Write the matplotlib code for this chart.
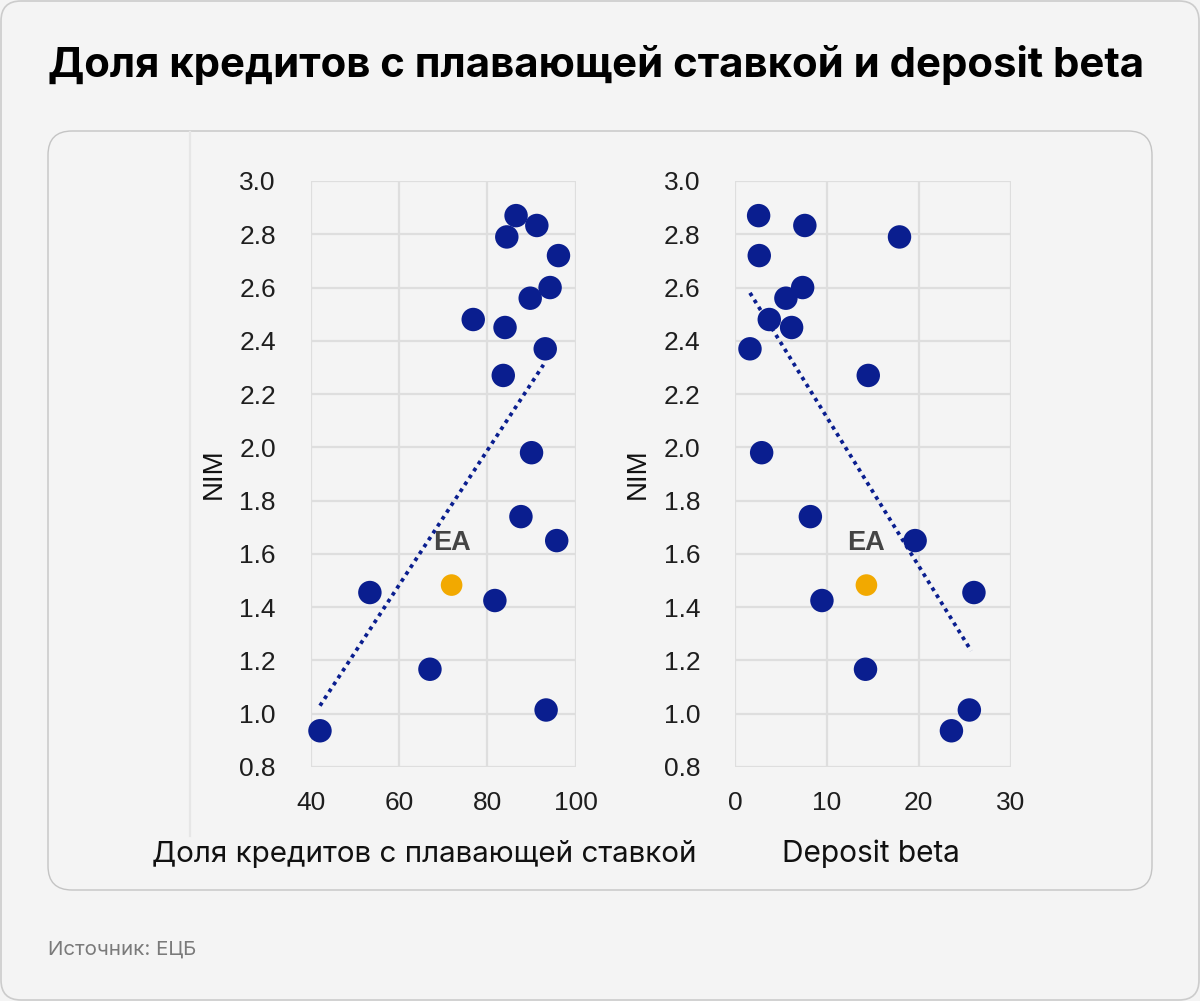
import matplotlib
matplotlib.use("Agg")
import matplotlib.pyplot as plt
from matplotlib.patches import FancyBboxPatch
from matplotlib.lines import Line2D

# ---------------- data ----------------
nim = [2.87, 2.833, 2.79, 2.72, 2.60, 2.56, 2.48, 2.45, 2.37, 2.27,
       1.98, 1.74, 1.65, 1.455, 1.425, 1.167, 1.014, 0.936]
float_share = [86.5, 91.2, 84.4, 96.1, 94.2, 89.7, 76.8, 84.0, 93.1, 83.6,
               90.0, 87.6, 95.7, 53.4, 81.7, 67.0, 93.3, 42.1]
deposit_beta = [2.57, 7.6, 17.9, 2.64, 7.36, 5.54, 3.73, 6.16, 1.63, 14.5,
                2.9, 8.2, 19.6, 26.0, 9.46, 14.2, 25.5, 23.55]

ea_label = "EA"
ea_nim = 1.483
ea_float = 71.9
ea_beta = 14.3

trend_float_x = [42.1, 92.7]
trend_float_y = [1.03, 2.31]
trend_beta_x = [1.63, 25.7]
trend_beta_y = [2.58, 1.236]

yticks = [0.8, 1.0, 1.2, 1.4, 1.6, 1.8, 2.0, 2.2, 2.4, 2.6, 2.8, 3.0]
xticks_float = [40, 60, 80, 100]
xticks_beta = [0, 10, 20, 30]

title = "Доля кредитов с плавающей ставкой и deposit beta"
xlabel_float = "Доля кредитов с плавающей ставкой"
xlabel_beta = "Deposit beta"
ylabel = "NIM"
source = "Источник: ЕЦБ"

# ---------------- style ----------------
W, H = 1200, 1001
BG = "#f4f4f4"
BLUE = "#0a1e8f"
ORANGE = "#f2a900"
GRID = "#dedede"
TICK_FONT = ["Liberation Sans", "DejaVu Sans"]
TEXT_FONT = ["Inter", "Roboto", "DejaVu Sans"]

fig = plt.figure(figsize=(W / 100, H / 100), dpi=100)
fig.patch.set_facecolor(BG)

# pixel-coordinate background axes for frames
bg = fig.add_axes([0, 0, 1, 1], zorder=-5)
bg.set_xlim(0, W)
bg.set_ylim(H, 0)
bg.axis("off")
bg.add_patch(FancyBboxPatch((1, 1), W - 2, H - 2,
                            boxstyle="round,pad=0,rounding_size=20",
                            fc=BG, ec="#cccccc", lw=1.2))
bg.add_patch(FancyBboxPatch((48, 131), 1104, 759,
                            boxstyle="round,pad=0,rounding_size=24",
                            fc=BG, ec="#c4c4c4", lw=1.0))
bg.add_line(Line2D([190, 190], [132, 836], color="#e6e6e6", lw=1.6))


def px_to_fig(x0, y_top, x1, y_bot):
    return [x0 / W, 1 - y_bot / H, (x1 - x0) / W, (y_bot - y_top) / H]


def style_axes(ax, xlim, xticks):
    ax.set_facecolor("none")
    ax.set_xlim(*xlim)
    ax.set_ylim(0.8, 3.0)
    ax.set_xticks(xticks)
    ax.set_yticks(yticks)
    ax.set_yticklabels([f"{v:.1f}" for v in yticks])
    ax.set_xticklabels([str(v) for v in xticks])
    ax.grid(True, color=GRID, lw=1.6, zorder=0)
    ax.set_axisbelow(True)
    for s in ax.spines.values():
        s.set_visible(False)
    ax.tick_params(length=0, labelsize=19, labelcolor="#1e1e1e")
    ax.tick_params(axis="y", pad=25)
    ax.tick_params(axis="x", pad=17)
    for lab in ax.get_xticklabels() + ax.get_yticklabels():
        lab.set_fontfamily(TICK_FONT)
    ax.set_ylabel(ylabel, fontsize=20, family=TICK_FONT, color="#111111", labelpad=9)


ax1 = fig.add_axes(px_to_fig(310.7, 181, 575.7, 767))
ax2 = fig.add_axes(px_to_fig(735, 181, 1010.7, 767))

style_axes(ax1, (40, 100), xticks_float)
style_axes(ax2, (0, 30), xticks_beta)

MS = 285
for ax, xs, ex, tx, ty in [
    (ax1, float_share, ea_float, trend_float_x, trend_float_y),
    (ax2, deposit_beta, ea_beta, trend_beta_x, trend_beta_y),
]:
    ax.plot(tx, ty, color=BLUE, lw=2.7, linestyle=(0, (1, 1.2)), zorder=2)
    ax.scatter(xs, nim, s=MS, color=BLUE, edgecolors="none", zorder=3, clip_on=False)
    ax.scatter([ex], [ea_nim], s=MS * 0.85, color=ORANGE, edgecolors="none", zorder=3, clip_on=False)
    ax.annotate(ea_label, (ex, ea_nim), xytext=(0, 30), textcoords="offset points",
                ha="center", va="center", fontsize=19.5, fontweight="bold",
                family=TICK_FONT, color="#444444")

# texts
fig.text(48 / W, 1 - 77 / H, title, fontsize=30.2, fontweight="bold",
         family=TEXT_FONT, color="#000000", ha="left", va="baseline")
fig.text(424 / W, 1 - 862 / H, xlabel_float, fontsize=21.3, family=TEXT_FONT,
         color="#111111", ha="center", va="baseline")
fig.text(871 / W, 1 - 862 / H, xlabel_beta, fontsize=21.5, family=TEXT_FONT,
         color="#111111", ha="center", va="baseline")
fig.text(48 / W, 1 - 955 / H, source, fontsize=14.8, family=TEXT_FONT,
         color="#7a7a7a", ha="left", va="baseline")

fig.savefig("out.png", dpi=100, facecolor=BG)
